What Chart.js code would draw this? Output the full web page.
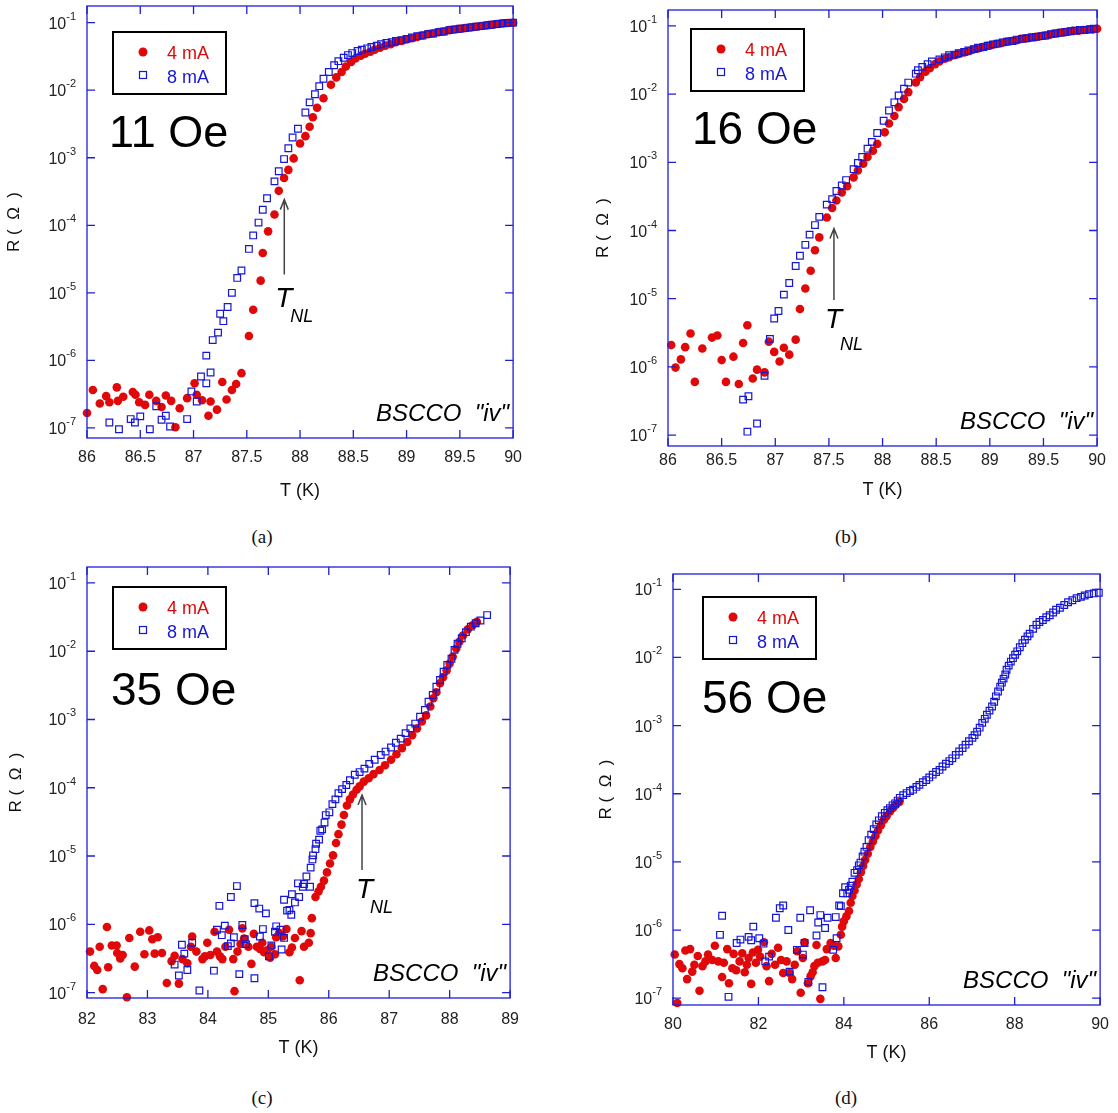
<!DOCTYPE html>
<html>
<head>
<meta charset="utf-8">
<script src="https://cdn.jsdelivr.net/npm/chart.js@4.4.1/dist/chart.umd.min.js"></script>
<style>
  body { margin: 0; background: #fff; width: 1118px; height: 1113px; position: relative; overflow: hidden; }
  canvas { position: absolute; }
  .cap { position: absolute; font-family: "Liberation Serif", "Times New Roman", serif; font-size: 19px; color: #111; transform: translate(-50%, -50%); }
</style>
</head>
<body>
<canvas id="pa"></canvas>
<canvas id="pb"></canvas>
<canvas id="pc"></canvas>
<canvas id="pd"></canvas>
<div class="cap" style="left:262px; top:537px">(a)</div>
<div class="cap" style="left:846px; top:537px">(b)</div>
<div class="cap" style="left:262px; top:1098px">(c)</div>
<div class="cap" style="left:846px; top:1098px">(d)</div>
<script>
// all resistances are stored as log10(R / ohm)

// (a) 11 Oe
const aT4 = [86.00, 86.055, 86.12, 86.18, 86.21, 86.28, 86.29, 86.34, 86.43, 86.455,
  86.49, 86.545, 86.585, 86.65, 86.70, 86.74, 86.79, 86.83, 86.87, 86.94,
  87.01, 87.03, 87.08, 87.14, 87.16, 87.22, 87.27, 87.31, 87.36, 87.40,
  87.45, 87.52, 87.56, 87.63, 87.65, 87.70, 87.76, 87.80, 87.85, 87.89,
  87.94, 88.00, 88.05, 88.09, 88.12, 88.16, 88.22, 88.29, 88.34, 88.39,
  88.43, 88.48, 88.52, 88.57, 88.61, 88.66, 88.70, 88.75, 88.80, 88.85,
  88.90, 88.95, 89.00, 89.05, 89.10, 89.15, 89.20, 89.25, 89.30, 89.35,
  89.40, 89.45, 89.50, 89.55, 89.60, 89.65, 89.70, 89.75, 89.80, 89.85,
  89.90, 89.95, 90.00];
const aLogR4 = [-6.78, -6.44, -6.64, -6.53, -6.62, -6.40, -6.60, -6.54, -6.47, -6.51,
  -6.62, -6.66, -6.51, -6.60, -6.69, -6.52, -6.60, -6.99, -6.71, -6.56,
  -6.34, -6.51, -6.59, -6.82, -6.61, -6.73, -6.32, -6.58, -6.44, -6.35,
  -6.19, -5.64, -5.25, -4.82, -4.41, -4.09, -3.84, -3.49, -3.30, -3.18,
  -3.01, -2.79, -2.68, -2.54, -2.40, -2.26, -2.12, -1.92, -1.81, -1.73,
  -1.65, -1.58, -1.53, -1.49, -1.46, -1.43, -1.40, -1.37, -1.34, -1.32,
  -1.29, -1.27, -1.25, -1.23, -1.21, -1.19, -1.17, -1.16, -1.14, -1.13,
  -1.11, -1.10, -1.09, -1.08, -1.07, -1.06, -1.05, -1.04, -1.03, -1.02,
  -1.01, -1.005, -1.00];
const aT8 = [86.21, 86.30, 86.41, 86.45, 86.50, 86.59, 86.65, 86.70, 86.74, 86.78,
  86.94, 86.98, 87.03, 87.07, 87.12, 87.12, 87.16, 87.18, 87.23, 87.25,
  87.28, 87.32, 87.36, 87.41, 87.45, 87.52, 87.56, 87.61, 87.65, 87.69,
  87.76, 87.80, 87.85, 87.89, 87.93, 87.98, 88.05, 88.09, 88.14, 88.18,
  88.22, 88.27, 88.32, 88.36, 88.41, 88.45, 88.49, 88.54, 88.58, 88.63,
  88.67, 88.72, 88.76, 88.81, 88.86, 88.90, 88.95, 89.00, 89.05, 89.10,
  89.15, 89.20, 89.25, 89.30, 89.35, 89.40, 89.45, 89.50, 89.55, 89.60,
  89.65, 89.70, 89.75, 89.80, 89.85, 89.90, 89.95, 90.00];
const aLogR8 = [-6.92, -7.02, -6.87, -6.92, -6.83, -7.02, -6.68, -6.88, -6.82, -6.98,
  -6.87, -6.46, -6.61, -6.24, -6.34, -5.93, -6.18, -5.70, -5.59, -5.31,
  -5.42, -5.21, -5.00, -4.78, -4.67, -4.35, -4.15, -3.96, -3.77, -3.60,
  -3.35, -3.20, -3.02, -2.86, -2.70, -2.57, -2.33, -2.18, -2.06, -1.94,
  -1.83, -1.73, -1.63, -1.57, -1.52, -1.48, -1.45, -1.42, -1.40, -1.38,
  -1.36, -1.34, -1.32, -1.30, -1.29, -1.27, -1.26, -1.24, -1.22, -1.20,
  -1.19, -1.17, -1.16, -1.14, -1.13, -1.11, -1.10, -1.09, -1.08, -1.07,
  -1.06, -1.05, -1.04, -1.03, -1.02, -1.01, -1.005, -1.00];

// (b) 16 Oe
const bT4 = [86.03, 86.07, 86.12, 86.16, 86.21, 86.25, 86.32, 86.41, 86.46, 86.50,
  86.54, 86.61, 86.66, 86.70, 86.74, 86.79, 86.83, 86.90, 86.94, 86.99,
  87.04, 87.08, 87.13, 87.19, 87.23, 87.28, 87.33, 87.37, 87.41, 87.48,
  87.53, 87.57, 87.62, 87.67, 87.73, 87.77, 87.82, 87.86, 87.91, 87.95,
  88.02, 88.06, 88.11, 88.15, 88.20, 88.24, 88.31, 88.35, 88.40, 88.44,
  88.49, 88.53, 88.58, 88.62, 88.67, 88.71, 88.76, 88.80, 88.84, 88.89,
  88.93, 88.98, 89.02, 89.07, 89.11, 89.16, 89.20, 89.25, 89.29, 89.34,
  89.38, 89.43, 89.47, 89.52, 89.56, 89.61, 89.65, 89.70, 89.74, 89.78,
  89.83, 89.87, 89.92, 89.96, 90.00];
const bLogR4 = [-5.68, -6.01, -5.89, -5.71, -5.51, -6.22, -5.73, -5.57, -5.54, -5.90,
  -6.22, -5.85, -6.25, -5.65, -5.39, -6.17, -6.04, -6.08, -5.63, -5.78,
  -5.92, -5.72, -5.82, -5.60, -5.15, -4.85, -4.59, -4.29, -4.10, -3.81,
  -3.67, -3.56, -3.44, -3.35, -3.22, -3.12, -3.02, -2.92, -2.83, -2.73,
  -2.56, -2.43, -2.32, -2.19, -2.07, -1.97, -1.83, -1.75, -1.67, -1.62,
  -1.56, -1.52, -1.48, -1.46, -1.43, -1.41, -1.39, -1.37, -1.35, -1.33,
  -1.31, -1.29, -1.28, -1.26, -1.25, -1.23, -1.22, -1.21, -1.19, -1.18,
  -1.17, -1.16, -1.15, -1.14, -1.13, -1.11, -1.10, -1.09, -1.08, -1.07,
  -1.07, -1.06, -1.05, -1.05, -1.04];
const bT8 = [86.70, 86.74, 86.75, 86.83, 86.90, 86.95, 86.99, 87.03, 87.08, 87.13,
  87.19, 87.23, 87.28, 87.32, 87.37, 87.41, 87.48, 87.53, 87.57, 87.62,
  87.66, 87.73, 87.77, 87.81, 87.86, 87.90, 87.95, 88.01, 88.06, 88.11,
  88.15, 88.20, 88.24, 88.31, 88.33, 88.37, 88.42, 88.46, 88.53, 88.58,
  88.62, 88.67, 88.71, 88.76, 88.80, 88.85, 88.89, 88.94, 88.98, 89.03,
  89.07, 89.12, 89.16, 89.21, 89.25, 89.30, 89.34, 89.39, 89.43, 89.48,
  89.52, 89.57, 89.61, 89.66, 89.70, 89.75, 89.79, 89.84, 89.88, 89.93,
  89.97];
const bLogR8 = [-6.48, -6.95, -6.43, -6.83, -6.13, -5.59, -5.29, -5.18, -4.94, -4.77,
  -4.52, -4.37, -4.21, -4.06, -3.92, -3.80, -3.62, -3.54, -3.42, -3.34,
  -3.26, -3.10, -3.01, -2.92, -2.80, -2.70, -2.57, -2.39, -2.24, -2.12,
  -2.02, -1.92, -1.83, -1.70, -1.65, -1.60, -1.56, -1.52, -1.49, -1.46,
  -1.43, -1.42, -1.40, -1.38, -1.36, -1.34, -1.32, -1.31, -1.29, -1.27,
  -1.26, -1.24, -1.23, -1.22, -1.20, -1.19, -1.18, -1.17, -1.16, -1.15,
  -1.14, -1.12, -1.11, -1.10, -1.09, -1.08, -1.07, -1.06, -1.06, -1.05,
  -1.04];

// (c) 35 Oe
const cT4 = [82.05, 82.12, 82.17, 82.21, 82.26, 82.33, 82.35, 82.41, 82.49, 82.50,
  82.55, 82.59, 82.66, 82.70, 82.79, 82.88, 82.95, 83.03, 83.08, 83.12,
  83.17, 83.24, 83.32, 83.40, 83.45, 83.52, 83.58, 83.66, 83.72, 83.74,
  83.81, 83.91, 83.95, 83.99, 84.04, 84.11, 84.15, 84.20, 84.24, 84.29,
  84.35, 84.42, 84.44, 84.49, 84.54, 84.57, 84.60, 84.67, 84.72, 84.76,
  84.81, 84.86, 84.90, 84.93, 84.98, 85.03, 85.05, 85.11, 85.13, 85.18,
  85.24, 85.30, 85.35, 85.39, 85.44, 85.52, 85.55, 85.59, 85.67, 85.70,
  85.72, 85.78, 85.83, 85.87, 85.92, 85.97, 86.02, 86.07, 86.12, 86.16,
  86.21, 86.25, 86.30, 86.35, 86.40, 86.46, 86.51, 86.58, 86.66, 86.74,
  86.84, 86.93, 87.03, 87.12, 87.21, 87.30, 87.38, 87.46, 87.54, 87.61,
  87.68, 87.73, 87.78, 87.84, 87.89, 87.95, 88.00, 88.05, 88.11, 88.16,
  88.22, 88.30, 88.38, 88.45];
const cLogR4 = [-6.40, -6.61, -6.67, -6.33, -6.95, -6.04, -6.63, -6.31, -6.31, -6.42,
  -6.50, -6.45, -7.07, -6.20, -6.62, -6.11, -6.44, -6.09, -6.22, -6.43,
  -6.19, -6.42, -6.86, -6.54, -6.46, -6.87, -6.51, -6.57, -6.33, -6.18,
  -6.40, -6.51, -6.47, -6.27, -6.45, -6.11, -6.40, -6.47, -6.51, -6.33,
  -6.08, -6.51, -6.98, -6.40, -6.29, -6.06, -6.21, -6.33, -6.58, -6.14,
  -6.33, -6.36, -6.27, -6.41, -6.38, -6.49, -6.33, -6.44, -6.19, -6.13,
  -6.18, -6.07, -6.41, -6.34, -6.20, -6.82, -6.10, -6.33, -6.27, -6.13,
  -5.91, -5.60, -5.52, -5.45, -5.36, -5.24, -5.11, -4.99, -4.81, -4.68,
  -4.54, -4.40, -4.26, -4.17, -4.10, -4.03, -3.98, -3.91, -3.86, -3.80,
  -3.74, -3.67, -3.59, -3.51, -3.42, -3.33, -3.23, -3.13, -3.03, -2.94,
  -2.81, -2.69, -2.60, -2.47, -2.38, -2.28, -2.18, -2.08, -1.96, -1.86,
  -1.77, -1.68, -1.62, -1.57];
const cT8 = [83.45, 83.52, 83.57, 83.61, 83.66, 83.74, 83.86, 84.10, 84.15, 84.19,
  84.23, 84.28, 84.33, 84.38, 84.38, 84.43, 84.48, 84.52, 84.57, 84.61,
  84.63, 84.77, 84.77, 84.85, 84.86, 84.91, 84.96, 85.01, 85.05, 85.11,
  85.13, 85.20, 85.22, 85.26, 85.26, 85.31, 85.35, 85.38, 85.39, 85.44,
  85.49, 85.51, 85.57, 85.59, 85.63, 85.69, 85.70, 85.73, 85.74, 85.78,
  85.79, 85.84, 85.86, 85.89, 85.93, 85.95, 86.01, 86.06, 86.11, 86.16,
  86.22, 86.29, 86.35, 86.43, 86.51, 86.59, 86.67, 86.76, 86.86, 86.94,
  87.03, 87.11, 87.19, 87.27, 87.35, 87.43, 87.51, 87.59, 87.65, 87.72,
  87.78, 87.84, 87.90, 87.96, 88.03, 88.08, 88.13, 88.20, 88.27, 88.35,
  88.43, 88.51, 88.62];
const cLogR8 = [-6.59, -6.75, -6.30, -6.43, -6.67, -6.27, -6.97, -6.68, -6.08, -5.73,
  -6.16, -6.02, -6.32, -6.28, -5.60, -6.19, -5.44, -6.73, -6.01, -6.22,
  -6.29, -5.69, -6.79, -5.77, -6.18, -6.07, -5.84, -6.47, -6.31, -6.11,
  -6.03, -6.08, -6.37, -5.64, -6.20, -5.80, -5.79, -5.86, -5.56, -5.68,
  -5.40, -5.60, -5.45, -5.41, -5.30, -5.45, -5.17, -5.05, -4.99, -4.90,
  -4.82, -4.76, -4.63, -4.61, -4.51, -4.40, -4.36, -4.24, -4.17, -4.08,
  -4.02, -3.96, -3.89, -3.81, -3.77, -3.72, -3.65, -3.59, -3.52, -3.47,
  -3.41, -3.34, -3.28, -3.20, -3.13, -3.06, -2.96, -2.86, -2.74, -2.64,
  -2.52, -2.42, -2.30, -2.20, -2.11, -1.98, -1.89, -1.81, -1.72, -1.64,
  -1.59, -1.55, -1.47];

// (d) 56 Oe
const dT4 = [80.04, 80.10, 80.15, 80.22, 80.29, 80.33, 80.40, 80.45, 80.50, 80.58,
  80.62, 80.69, 80.76, 80.82, 80.92, 80.98, 81.06, 81.15, 81.19, 81.27,
  81.31, 81.39, 81.42, 81.48, 81.56, 81.62, 81.68, 81.73, 81.77, 81.83,
  81.87, 81.94, 81.99, 82.04, 82.13, 82.19, 82.25, 82.31, 82.39, 82.46,
  82.53, 82.58, 82.66, 82.73, 82.79, 82.85, 82.91, 82.99, 83.04, 83.08,
  83.16, 83.22, 83.27, 83.31, 83.36, 83.39, 83.45, 83.50, 83.56, 83.60,
  83.69, 83.76, 83.81, 83.87, 83.93, 83.96, 84.00, 84.06, 84.12, 84.16,
  84.20, 84.25, 84.30, 84.35, 84.40, 84.45, 84.50, 84.56, 84.62, 84.68,
  84.74, 84.80, 84.87, 84.94, 85.00, 85.08, 85.15, 85.22, 85.30];
const dLogR4 = [-6.36, -7.07, -6.50, -6.56, -6.30, -6.72, -6.28, -6.61, -6.51, -6.38,
  -6.89, -6.53, -6.46, -6.36, -6.44, -6.23, -6.46, -6.69, -6.48, -6.28,
  -6.78, -6.56, -6.35, -6.59, -6.46, -6.34, -6.62, -6.51, -6.41, -6.79,
  -6.33, -6.48, -6.29, -6.39, -6.18, -6.53, -6.75, -6.35, -6.51, -6.26,
  -6.44, -6.63, -6.46, -6.63, -6.72, -6.51, -6.31, -6.92, -6.41, -6.18,
  -6.78, -6.68, -6.62, -6.53, -6.22, -6.48, -7.01, -6.46, -6.44, -6.28,
  -6.19, -6.23, -6.41, -6.24, -6.07, -5.95, -5.87, -5.80, -5.72, -5.60,
  -5.50, -5.42, -5.33, -5.25, -5.15, -5.06, -4.97, -4.88, -4.78, -4.70,
  -4.62, -4.54, -4.46, -4.38, -4.33, -4.26, -4.21, -4.16, -4.12];
const dT8 = [81.10, 81.15, 81.30, 81.49, 81.58, 81.77, 81.83, 81.88, 82.02, 82.12,
  82.16, 82.25, 82.41, 82.50, 82.58, 82.70, 82.73, 82.90, 82.98, 83.04,
  83.08, 83.17, 83.21, 83.36, 83.40, 83.45, 83.50, 83.56, 83.62, 83.75,
  83.81, 83.83, 83.89, 83.93, 83.98, 84.03, 84.08, 84.12, 84.16, 84.20,
  84.25, 84.31, 84.35, 84.39, 84.44, 84.48, 84.53, 84.58, 84.64, 84.70,
  84.76, 84.82, 84.89, 84.96, 85.02, 85.08, 85.14, 85.20, 85.26, 85.31,
  85.39, 85.47, 85.55, 85.62, 85.70, 85.77, 85.85, 85.93, 86.00, 86.08,
  86.16, 86.24, 86.31, 86.39, 86.47, 86.54, 86.62, 86.70, 86.78, 86.85,
  86.93, 87.01, 87.06, 87.12, 87.18, 87.24, 87.30, 87.35, 87.41, 87.47,
  87.52, 87.56, 87.61, 87.66, 87.70, 87.74, 87.78, 87.81, 87.86, 87.91,
  87.96, 88.01, 88.06, 88.12, 88.18, 88.24, 88.30, 88.35, 88.43, 88.51,
  88.58, 88.66, 88.74, 88.82, 88.90, 88.97, 89.06, 89.16, 89.25, 89.35,
  89.45, 89.55, 89.64, 89.74, 89.85, 89.97];
const dLogR8 = [-6.07, -5.79, -6.98, -6.19, -6.14, -6.10, -6.15, -5.95, -6.12, -6.20,
  -6.46, -6.39, -5.82, -5.68, -5.64, -6.00, -6.61, -6.29, -5.82, -6.36,
  -6.19, -6.76, -5.71, -6.08, -5.89, -5.78, -6.84, -5.97, -5.82, -6.29,
  -5.81, -6.12, -5.64, -5.65, -5.46, -5.37, -5.46, -5.41, -5.35, -5.29,
  -5.16, -5.12, -5.05, -5.01, -4.92, -4.85, -4.78, -4.68, -4.60, -4.52,
  -4.45, -4.39, -4.33, -4.28, -4.24, -4.21, -4.17, -4.14, -4.10, -4.06,
  -4.02, -3.99, -3.96, -3.94, -3.90, -3.87, -3.83, -3.80, -3.76, -3.72,
  -3.68, -3.65, -3.60, -3.56, -3.52, -3.48, -3.43, -3.38, -3.33, -3.28,
  -3.23, -3.18, -3.14, -3.09, -3.03, -2.96, -2.90, -2.84, -2.78, -2.72,
  -2.65, -2.57, -2.50, -2.43, -2.37, -2.31, -2.25, -2.18, -2.12, -2.06,
  -2.01, -1.96, -1.91, -1.85, -1.79, -1.74, -1.69, -1.65, -1.58, -1.52,
  -1.48, -1.45, -1.41, -1.38, -1.34, -1.30, -1.27, -1.23, -1.19, -1.16,
  -1.13, -1.11, -1.09, -1.07, -1.06, -1.05];

// y tick labels are 10^k for these k
const yPowers = [-7, -6, -5, -4, -3, -2, -1];
const seriesNames = ['4 mA', '8 mA'];

const RED = 'rgb(224,8,8)';
const BLUE = 'rgb(22,22,215)';
const AXIS = 'rgb(30,30,215)';
const FONT = '"Liberation Sans", Arial, sans-serif';

const panels = [
  { id: 'pa', box: [87, 6, 519, 438], t4: aT4, r4: aLogR4, t8: aT8, r8: aLogR8,
    xr: [86, 90, 0.5], yr: [-7.15, -0.753], field: '11 Oe', fieldAt: [22, 141], fieldSize: 45,
    legendAt: [26, 26], arrow: { x: 87.852, tip: -3.62, tail: -4.73, t: [-9, 32], nl: [6, 47] },
    tickPad: 10, xTitlePad: 8, yTitlePad: 4 },
  { id: 'pb', box: [668, 10, 1098, 446], t4: bT4, r4: bLogR4, t8: bT8, r8: bLogR8,
    xr: [86, 90, 0.5], yr: [-7.16, -0.766], field: '16 Oe', fieldAt: [24, 134], fieldSize: 46,
    legendAt: [23, 19], arrow: { x: 87.547, tip: -3.97, tail: -5.02, t: [-9, 28], nl: [6, 50] },
    tickPad: 5, xTitlePad: 17, yTitlePad: 12 },
  { id: 'pc', box: [87, 567, 518, 998], t4: cT4, r4: cLogR4, t8: cT8, r8: cLogR8,
    xr: [82, 89, 1], yr: [-7.08, -0.766], field: '35 Oe', fieldAt: [24, 138], fieldSize: 46,
    legendAt: [26, 20], arrow: { x: 86.55, tip: -4.107, tail: -5.205, t: [-6, 28], nl: [8, 43] },
    tickPad: 12, xTitlePad: 11, yTitlePad: 6 },
  { id: 'pd', box: [673, 574, 1106, 1005], t4: dT4, r4: dLogR4, t8: dT8, r8: dLogR8,
    xr: [80, 90, 2], yr: [-7.10, -0.775], field: '56 Oe', fieldAt: [29, 139], fieldSize: 46,
    legendAt: [30, 23], arrow: null,
    tickPad: 10, xTitlePad: 13, yTitlePad: 10 }
];

// frame, inward ticks, superscript labels and the texts inside the plot
const decor = {
  id: 'decor',
  afterDatasetsDraw(chart, args, o) {
    const { ctx, chartArea: a, scales: { x, y } } = chart;
    ctx.save();
    ctx.strokeStyle = AXIS;
    ctx.lineWidth = 1.3;
    ctx.strokeRect(a.left, a.top, a.right - a.left, a.bottom - a.top);
    ctx.beginPath();
    x.ticks.forEach(t => {
      const px = x.getPixelForValue(t.value);
      ctx.moveTo(px, a.bottom); ctx.lineTo(px, a.bottom - 8);
      ctx.moveTo(px, a.top); ctx.lineTo(px, a.top + 8);
    });
    yPowers.forEach(k => {
      const py = y.getPixelForValue(Math.pow(10, k));
      ctx.moveTo(a.left, py); ctx.lineTo(a.left + 8, py);
      ctx.moveTo(a.right, py); ctx.lineTo(a.right - 8, py);
    });
    ctx.stroke();

    // 10^k labels
    ctx.fillStyle = '#222';
    ctx.textAlign = 'right';
    ctx.textBaseline = 'alphabetic';
    yPowers.forEach(k => {
      const py = y.getPixelForValue(Math.pow(10, k));
      ctx.font = '11px ' + FONT;
      const sup = String(k);
      const w = ctx.measureText(sup).width;
      ctx.fillText(sup, a.left - 11, py - 3);
      ctx.font = '16px ' + FONT;
      ctx.fillText('10', a.left - 11 - w, py + 6);
    });

    // legend box
    const lx = a.left + o.legendAt[0], ly = a.top + o.legendAt[1];
    ctx.strokeStyle = '#000';
    ctx.lineWidth = 2;
    ctx.strokeRect(lx, ly, 113, 62);
    ctx.fillStyle = RED;
    ctx.beginPath(); ctx.arc(lx + 30, ly + 20, 4.5, 0, Math.PI * 2); ctx.fill();
    ctx.strokeStyle = BLUE; ctx.lineWidth = 1.2;
    ctx.strokeRect(lx + 26.5, ly + 39.5, 7, 7);
    ctx.font = '18px ' + FONT;
    ctx.textAlign = 'left';
    ctx.fillStyle = RED; ctx.fillText(seriesNames[0], lx + 54, ly + 27);
    ctx.fillStyle = BLUE; ctx.fillText(seriesNames[1], lx + 54, ly + 51);

    // field
    ctx.fillStyle = '#000';
    ctx.font = o.fieldSize + 'px ' + FONT;
    ctx.fillText(o.field, a.left + o.fieldAt[0], a.top + o.fieldAt[1]);

    // sample name
    ctx.font = 'italic 24px ' + FONT;
    ctx.textAlign = 'right';
    ctx.fillText('BSCCO  "iv"', a.right - 4, a.bottom - 17);

    // T_NL arrow
    if (o.arrow) {
      const ax = x.getPixelForValue(o.arrow.x);
      const tip = y.getPixelForValue(Math.pow(10, o.arrow.tip));
      const tail = y.getPixelForValue(Math.pow(10, o.arrow.tail));
      ctx.strokeStyle = '#444';
      ctx.lineWidth = 1.5;
      ctx.beginPath();
      ctx.moveTo(ax, tail); ctx.lineTo(ax, tip);
      ctx.moveTo(ax - 4, tip + 10); ctx.lineTo(ax, tip); ctx.lineTo(ax + 4, tip + 10);
      ctx.stroke();
      ctx.fillStyle = '#000';
      ctx.textAlign = 'left';
      ctx.font = 'italic 28px ' + FONT;
      ctx.fillText('T', ax + o.arrow.t[0], tail + o.arrow.t[1]);
      ctx.font = 'italic 18px ' + FONT;
      ctx.fillText('NL', ax + o.arrow.nl[0], tail + o.arrow.nl[1]);
    }
    ctx.restore();
  }
};

function makePanel(p) {
  const [L, T, R, B] = p.box;
  const cv = document.getElementById(p.id);
  cv.width = (R - L) + 87 + 13;
  cv.height = (B - T) + 10 + 72;
  cv.style.left = (L - 87) + 'px';
  cv.style.top = (T - 10) + 'px';

  new Chart(cv, {
    type: 'scatter',
    data: {
      datasets: [
        {
          label: seriesNames[1],
          data: p.t8.map((t, i) => ({ x: t, y: Math.pow(10, p.r8[i]) })),
          pointStyle: 'rect',
          pointRadius: 4.7,
          backgroundColor: 'rgba(0,0,0,0)',
          borderColor: BLUE,
          borderWidth: 1.2,
          clip: false,
          order: 1
        },
        {
          label: seriesNames[0],
          data: p.t4.map((t, i) => ({ x: t, y: Math.pow(10, p.r4[i]) })),
          pointStyle: 'circle',
          pointRadius: 4.3,
          backgroundColor: RED,
          borderColor: RED,
          borderWidth: 0,
          clip: false,
          order: 2
        }
      ]
    },
    options: {
      responsive: false,
      animation: false,
      events: [],
      layout: { padding: { top: 10, right: 13, left: 0, bottom: 0 } },
      plugins: { legend: { display: false }, tooltip: { enabled: false }, decor: p },
      scales: {
        x: {
          type: 'linear',
          min: p.xr[0], max: p.xr[1],
          grid: { display: false, drawTicks: false },
          border: { display: false },
          ticks: {
            stepSize: p.xr[2], autoSkip: false, maxRotation: 0,
            padding: p.tickPad, color: '#222',
            font: { family: FONT, size: 16 },
            callback: v => String(v)
          },
          title: { display: true, text: 'T (K)', color: '#111', font: { family: FONT, size: 18 },
                   padding: { top: 0, bottom: p.xTitlePad } },
          afterFit: s => { s.height = 72; }
        },
        y: {
          type: 'logarithmic',
          min: Math.pow(10, p.yr[0]), max: Math.pow(10, p.yr[1]),
          grid: { display: false, drawTicks: false },
          border: { display: false },
          ticks: { display: false },
          title: { display: true, text: 'R (  \u03A9  )', color: '#111', font: { family: FONT, size: 17 },
                   padding: { top: p.yTitlePad, bottom: 0 } },
          afterFit: s => { s.width = 87; }
        }
      }
    },
    plugins: [decor]
  });
}

panels.forEach(makePanel);
</script>
</body>
</html>
